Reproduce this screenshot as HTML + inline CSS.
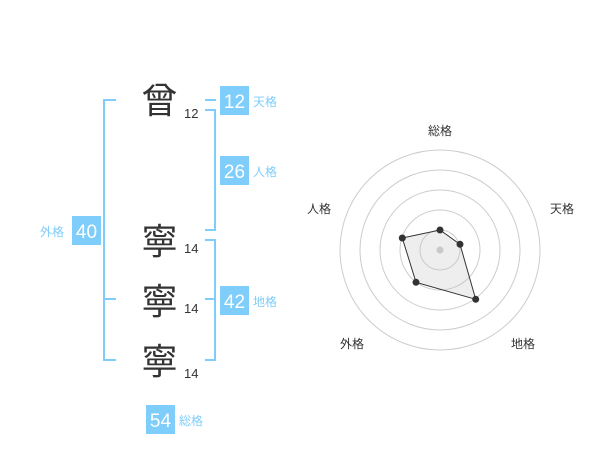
<!DOCTYPE html>
<html><head><meta charset="utf-8"><style>
html,body{margin:0;padding:0;background:#fff;}
svg{display:block;}
.k{font-family:"Liberation Sans","Noto Sans CJK JP",sans-serif;}
</style></head><body>
<svg width="600" height="470" viewBox="0 0 600 470" xmlns="http://www.w3.org/2000/svg" class="k">
<g stroke="#7fcdfb" stroke-width="2" fill="none">
<polyline points="116,100 104,100 104,360 116,360"/>
<line x1="104" y1="299" x2="116" y2="299"/>
<line x1="205" y1="100" x2="216" y2="100"/>
<polyline points="205,110 215,110 215,230 205,230"/>
<polyline points="205,240 215,240 215,360 205,360"/>
<line x1="215" y1="299" x2="205" y2="299"/>
</g>
<g fill="#7fcdfb">
<rect x="220" y="86" width="29" height="29"/>
<rect x="220" y="156" width="29" height="29"/>
<rect x="220" y="286" width="29" height="29"/>
<rect x="72" y="216" width="29" height="29"/>
<rect x="146" y="405" width="29" height="29"/>
</g>
<g fill="#fff" font-size="19" text-anchor="middle">
<text x="234.5" y="108">12</text>
<text x="234.5" y="178">26</text>
<text x="234.5" y="308">42</text>
<text x="86.5" y="238">40</text>
<text x="160.5" y="427">54</text>
</g>
<g fill="#7fcdfb" font-size="12">
<text x="253" y="106">天格</text>
<text x="253" y="176">人格</text>
<text x="253" y="306">地格</text>
<text x="40" y="236">外格</text>
<text x="179" y="425">総格</text>
</g>
<g fill="#333" font-size="36" text-anchor="middle">
<text x="159.5" y="113">曾</text>
<text x="159.5" y="254">寧</text>
<text x="159.5" y="314">寧</text>
<text x="159.5" y="374">寧</text>
</g>
<g fill="#333" font-size="13">
<text x="184" y="118">12</text>
<text x="184" y="253">14</text>
<text x="184" y="313">14</text>
<text x="184" y="378">14</text>
</g>
<g stroke="#ccc" stroke-width="1" fill="none">
<circle cx="440" cy="250" r="20"/>
<circle cx="440" cy="250" r="40"/>
<circle cx="440" cy="250" r="60"/>
<circle cx="440" cy="250" r="80"/>
<circle cx="440" cy="250" r="100"/>
</g>
<circle cx="440" cy="250" r="3.5" fill="#ccc"/>
<polygon points="440,230 460,244.3 475.7,299.3 416,282.3 402.3,238" fill="rgba(200,200,200,0.3)" stroke="#333" stroke-width="1"/>
<g fill="#333">
<circle cx="440" cy="230" r="3.5"/>
<circle cx="460" cy="244.3" r="3.5"/>
<circle cx="475.7" cy="299.3" r="3.5"/>
<circle cx="416" cy="282.3" r="3.5"/>
<circle cx="402.3" cy="238" r="3.5"/>
</g>
<g fill="#333" font-size="12" text-anchor="middle">
<text x="440" y="135">総格</text>
<text x="562" y="213">天格</text>
<text x="523" y="348">地格</text>
<text x="352" y="348">外格</text>
<text x="319" y="213">人格</text>
</g>
</svg>
</body></html>
